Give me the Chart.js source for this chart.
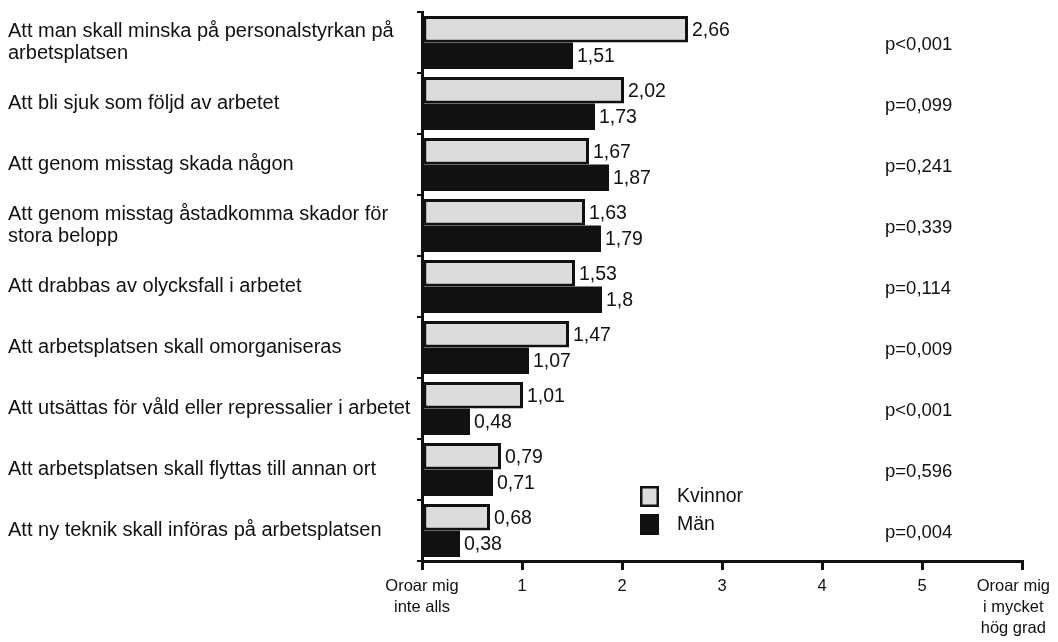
<!DOCTYPE html>
<html>
<head>
<meta charset="utf-8">
<script src="https://cdn.jsdelivr.net/npm/chart.js@4/dist/chart.umd.min.js"></script>
<style>
  html, body { margin: 0; padding: 0; background: #ffffff; }
  #wrap { width: 1058px; height: 642px; }
</style>
</head>
<body>
<div id="wrap"><canvas id="c" width="1058" height="642"></canvas></div>
<script>
// Oro för olika saker i arbetet – medelvärden per kön
const categories = [
  ['Att man skall minska på personalstyrkan på', 'arbetsplatsen'],
  'Att bli sjuk som följd av arbetet',
  'Att genom misstag skada någon',
  ['Att genom misstag åstadkomma skador för', 'stora belopp'],
  'Att drabbas av olycksfall i arbetet',
  'Att arbetsplatsen skall omorganiseras',
  'Att utsättas för våld eller repressalier i arbetet',
  'Att arbetsplatsen skall flyttas till annan ort',
  'Att ny teknik skall införas på arbetsplatsen'
];
const kvinnor = [2.66, 2.02, 1.67, 1.63, 1.53, 1.47, 1.01, 0.79, 0.68];
const man = [1.51, 1.73, 1.87, 1.79, 1.8, 1.07, 0.48, 0.71, 0.38];
const pValues = ['p<0,001', 'p=0,099', 'p=0,241', 'p=0,339', 'p=0,114', 'p=0,009', 'p<0,001', 'p=0,596', 'p=0,004'];
const seriesNames = ['Kvinnor', 'Män'];
const xTickLabels = [
  ['Oroar mig', 'inte alls'],
  ['1'], ['2'], ['3'], ['4'], ['5'],
  ['Oroar mig', 'i mycket', 'hög grad']
];

const FONT = '"Liberation Sans", Arial, Helvetica, sans-serif';
const INK = '#111111';
const LIGHT = '#dcdcdc';

const fmt = v => String(v).replace('.', ',');

// Value labels at bar ends, p-values, x tick labels and the legend box
const annotations = {
  id: 'annotations',
  afterDatasetsDraw(chart) {
    const ctx = chart.ctx;
    const area = chart.chartArea;
    const xs = chart.scales.x;
    const ys = chart.scales.y;
    ctx.save();
    ctx.fillStyle = INK;
    ctx.textBaseline = 'middle';
    ctx.textAlign = 'left';

    // values beside each bar
    ctx.font = '19.5px ' + FONT;
    chart.data.datasets.forEach((ds, i) => {
      const meta = chart.getDatasetMeta(i);
      meta.data.forEach((bar, j) => {
        ctx.fillText(fmt(ds.data[j]), bar.x + 4, bar.y + 1);
      });
    });

    // p-values in the right column
    ctx.font = '18.5px ' + FONT;
    pValues.forEach((p, j) => {
      ctx.fillText(p, area.left + 463, ys.getPixelForValue(j) + 2);
    });

    // x axis tick labels (end labels kept inside the canvas)
    ctx.font = '16.5px ' + FONT;
    ctx.textAlign = 'center';
    const lineH = 21;
    xTickLabels.forEach((lines, v) => {
      let cx = xs.getPixelForValue(v);
      const w = Math.max(...lines.map(l => ctx.measureText(l).width));
      cx = Math.min(cx, chart.width - 8 - w / 2);
      lines.forEach((l, k) => {
        ctx.fillText(l, cx, area.bottom + 25 + k * lineH);
      });
    });

    // legend
    const lx = area.left + 218;
    const ly = area.top + 474;
    ctx.textAlign = 'left';
    ctx.font = '19.5px ' + FONT;
    chart.data.datasets.forEach((ds, i) => {
      const top = ly + i * 28;
      ctx.fillStyle = ds.backgroundColor;
      ctx.fillRect(lx, top, 19, 21);
      if (ds.borderWidth) {
        ctx.strokeStyle = INK;
        ctx.lineWidth = 2.5;
        ctx.strokeRect(lx + 1.25, top + 1.25, 16.5, 18.5);
      }
      ctx.fillStyle = INK;
      ctx.fillText(ds.label, lx + 37, top + 11);
    });
    ctx.restore();
  }
};

new Chart(document.getElementById('c'), {
  type: 'bar',
  data: {
    labels: categories,
    datasets: [
      {
        label: seriesNames[0],
        data: kvinnor,
        backgroundColor: LIGHT,
        borderColor: INK,
        borderWidth: 3,
        borderSkipped: false
      },
      {
        label: seriesNames[1],
        data: man,
        backgroundColor: INK,
        borderWidth: 0
      }
    ]
  },
  options: {
    indexAxis: 'y',
    responsive: false,
    animation: false,
    devicePixelRatio: 1,
    categoryPercentage: 0.87,
    barPercentage: 1.0,
    layout: { padding: { left: 8, right: 36, top: 12, bottom: 0 } },
    plugins: {
      legend: { display: false },
      tooltip: { enabled: false }
    },
    scales: {
      x: {
        min: 0,
        max: 6,
        ticks: { stepSize: 1, display: false },
        grid: {
          drawOnChartArea: false,
          drawTicks: true,
          tickLength: 9,
          color: INK,
          lineWidth: 3
        },
        border: { display: true, color: INK, width: 3 },
        afterFit(scale) { scale.height = 81; }
      },
      y: {
        ticks: {
          crossAlign: 'far',
          color: INK,
          autoSkip: false,
          padding: 0,
          font: { family: FONT, size: 20, lineHeight: 1.1 }
        },
        grid: {
          offset: true,
          drawOnChartArea: false,
          drawTicks: true,
          tickLength: 5,
          color: INK,
          lineWidth: 2
        },
        border: { display: true, color: INK, width: 3 },
        afterFit(scale) { scale.width = 414; }
      }
    }
  },
  plugins: [annotations]
});
</script>
</body>
</html>
